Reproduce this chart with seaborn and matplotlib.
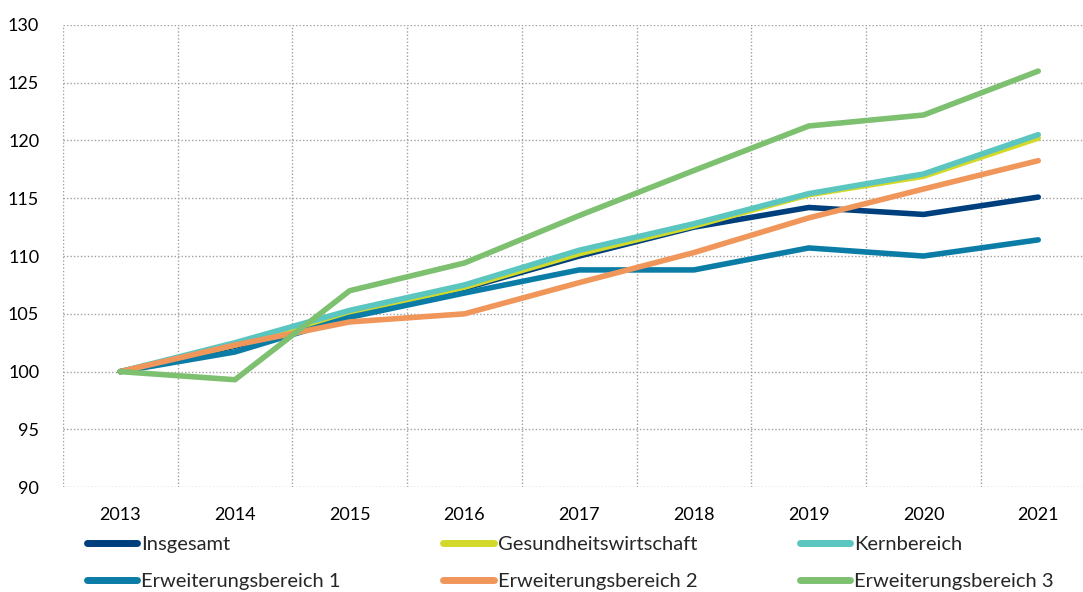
import pandas as pd
import matplotlib.pyplot as plt
import seaborn as sns
from matplotlib.ticker import MultipleLocator, FixedLocator

# Index 2013 = 100
jahre = [2013, 2014, 2015, 2016, 2017, 2018, 2019, 2020, 2021]
insgesamt = [100, 102.2, 104.8, 107.2, 110.0, 112.5, 114.2, 113.6, 115.1]
gesundheitswirtschaft = [100, 102.3, 105.0, 107.3, 110.2, 112.6, 115.3, 116.9, 120.2]
kernbereich = [100, 102.5, 105.3, 107.5, 110.5, 112.8, 115.4, 117.1, 120.5]
erweiterung_1 = [100, 101.7, 104.7, 106.8, 108.8, 108.8, 110.7, 110.0, 111.4]
erweiterung_2 = [100, 102.3, 104.3, 105.0, 107.7, 110.3, 113.3, 115.8, 118.25]
erweiterung_3 = [100, 99.3, 107.0, 109.4, 113.5, 117.4, 121.25, 122.2, 126.0]

reihen = {
    "Insgesamt": insgesamt,
    "Gesundheitswirtschaft": gesundheitswirtschaft,
    "Kernbereich": kernbereich,
    "Erweiterungsbereich 1": erweiterung_1,
    "Erweiterungsbereich 2": erweiterung_2,
    "Erweiterungsbereich 3": erweiterung_3,
}
farben = ["#003f7d", "#d2d92a", "#5bc5c0", "#0a7ca6", "#f0965a", "#7dc070"]

df = pd.DataFrame(
    [(i, j, name, v) for name, werte in reihen.items() for i, (j, v) in enumerate(zip(jahre, werte))],
    columns=["pos", "jahr", "reihe", "wert"],
)

sns.set_style("white")
plt.rcParams["font.family"] = ["Lato", "DejaVu Sans"]

fig = plt.figure(figsize=(10.83, 5.92), dpi=100)
ax = fig.add_axes([0.058, 0.177, 0.942, 0.781])

sns.lineplot(data=df, x="pos", y="wert", hue="reihe", hue_order=list(reihen.keys()),
             palette=farben, linewidth=4, ax=ax, legend=False, solid_capstyle="round")

ax.set_xlim(-0.5, 8.39)
ax.set_ylim(90, 130)
ax.yaxis.set_major_locator(MultipleLocator(5))
ax.xaxis.set_major_locator(FixedLocator(range(len(jahre))))
ax.set_xticklabels([str(j) for j in jahre])
ax.xaxis.set_minor_locator(FixedLocator([k - 0.5 for k in range(len(jahre) + 1)]))
ax.grid(False)
ax.grid(axis="y", which="major", color="#a0a0a0", linestyle=(0, (1, 1.5)), linewidth=1)
ax.grid(axis="x", which="minor", color="#a0a0a0", linestyle=(0, (1, 1.5)), linewidth=1)
ax.set_axisbelow(True)
for s in ax.spines.values():
    s.set_visible(False)
ax.tick_params(axis="both", which="both", length=0, labelsize=13, colors="#000000")
ax.tick_params(axis="x", pad=14)
ax.tick_params(axis="y", pad=17)
ax.set_xlabel("")
ax.set_ylabel("")

# legend fills column by column, so reorder to read row by row
namen = list(reihen.keys())
reihenfolge = [0, 3, 1, 4, 2, 5]
handles = [plt.Line2D([], [], color=farben[k], linewidth=5, solid_capstyle="round") for k in reihenfolge]
labels = [namen[k] for k in reihenfolge]
fig.legend(handles, labels, loc="upper left", bbox_to_anchor=(0.080, 0.094),
           ncol=3, frameon=False, fontsize=14.5, handlelength=2.5, handletextpad=0.2,
           columnspacing=5.1, labelspacing=0.95, borderaxespad=0, borderpad=0)

fig.savefig("out.png", dpi=100)
